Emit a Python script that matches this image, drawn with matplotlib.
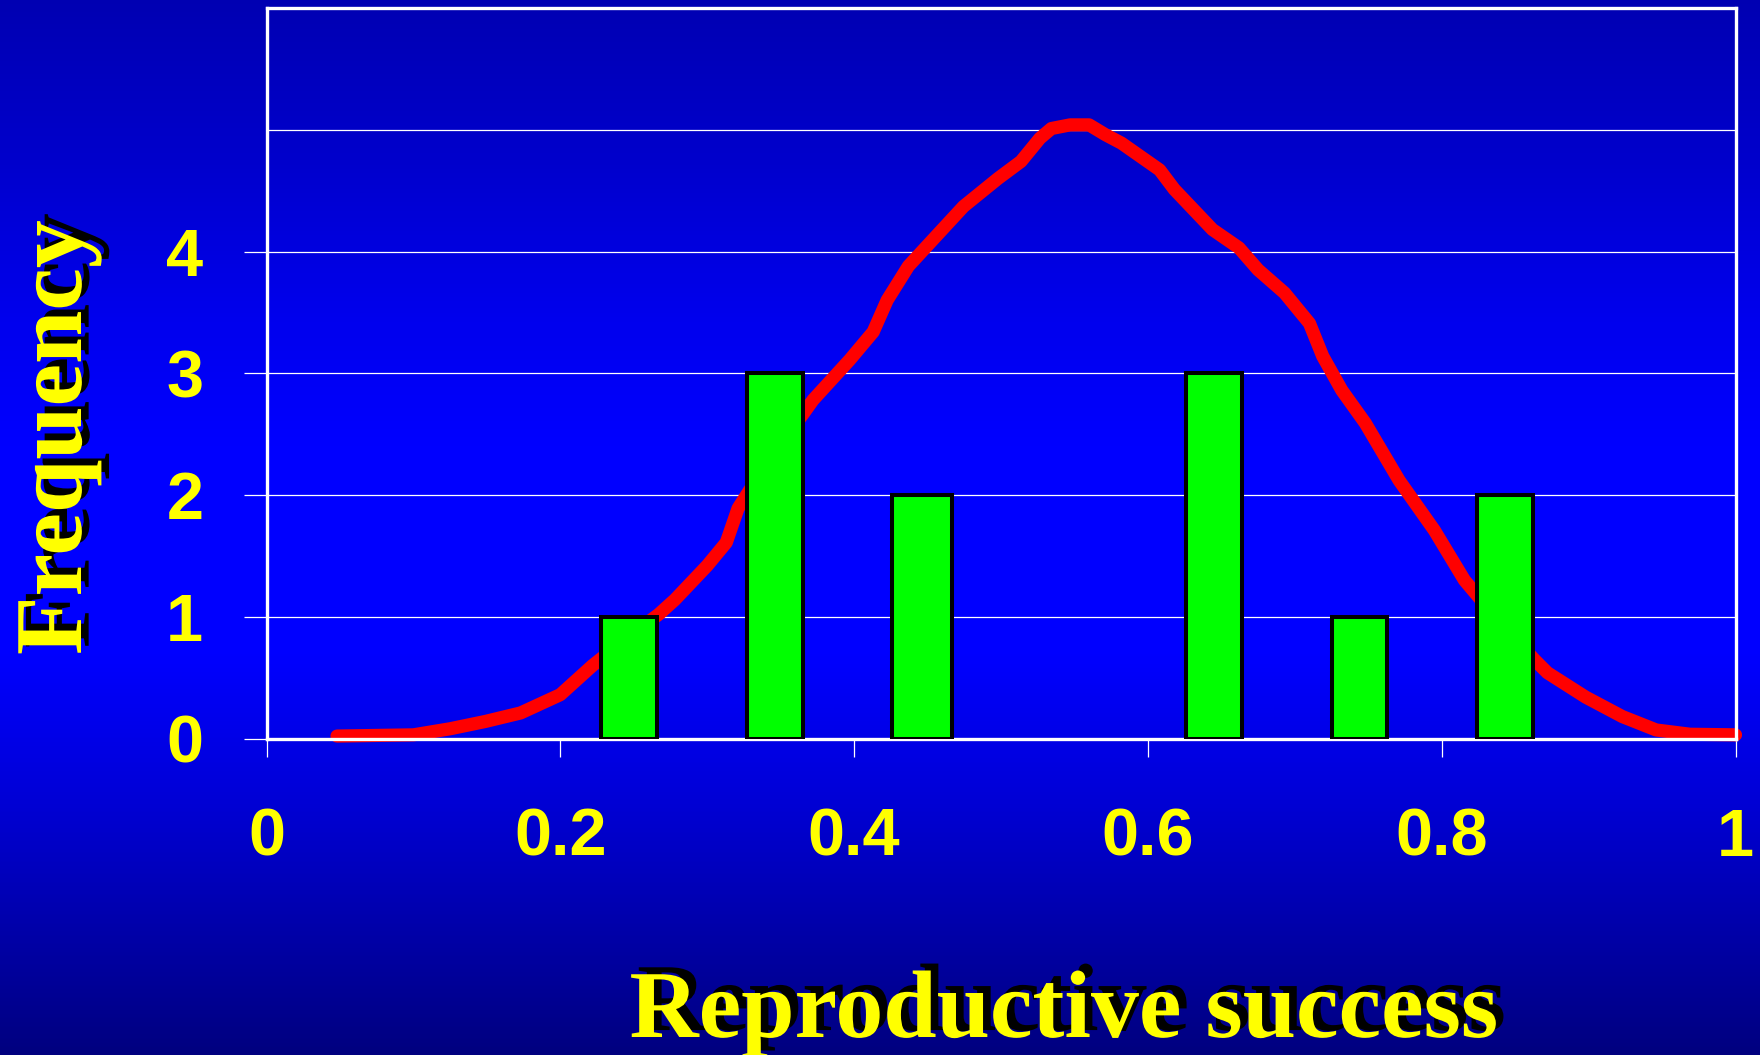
import numpy as np
import matplotlib
matplotlib.use("Agg")
import matplotlib.pyplot as plt
from matplotlib.colors import LinearSegmentedColormap
import matplotlib.patheffects as pe

# ---- data ----
bar_x = [0.247, 0.346, 0.446, 0.645, 0.744, 0.843]
bar_freq = [1, 3, 2, 3, 1, 2]
bar_w = [0.038, 0.038, 0.041, 0.038, 0.038, 0.038]

curve_x = [0.048, 0.100, 0.125, 0.149, 0.173, 0.200, 0.222, 0.245, 0.267, 0.278,
           0.300, 0.313, 0.321, 0.340, 0.3655, 0.372, 0.397, 0.413, 0.4225, 0.437,
           0.450, 0.4745, 0.498, 0.5136, 0.5265, 0.5343, 0.547, 0.560, 0.571, 0.582,
           0.608, 0.618, 0.644, 0.662, 0.675, 0.693, 0.710, 0.719, 0.732, 0.748,
           0.771, 0.795, 0.8155, 0.840, 0.8633, 0.872, 0.898, 0.923, 0.946, 0.969, 1.0]
curve_y = [0.02, 0.03, 0.08, 0.14, 0.21, 0.36, 0.60, 0.82, 1.02, 1.14,
           1.42, 1.61, 1.89, 2.25, 2.67, 2.78, 3.11, 3.34, 3.60, 3.88,
           4.05, 4.37, 4.60, 4.74, 4.93, 5.01, 5.04, 5.04, 4.96, 4.89,
           4.67, 4.51, 4.18, 4.03, 3.85, 3.66, 3.41, 3.14, 2.86, 2.59,
           2.12, 1.71, 1.30, 0.95, 0.645, 0.54, 0.34, 0.18, 0.07, 0.035, 0.03]

xticks = [0, 0.2, 0.4, 0.6, 0.8, 1]
xtick_labels = ["0", "0.2", "0.4", "0.6", "0.8", "1"]
yticks = [0, 1, 2, 3, 4]
ytick_labels = ["0", "1", "2", "3", "4"]
extra_grid = [5]

xlabel = "Reproductive success"
ylabel = "Frequency"

# ---- figure ----
W, H = 1760, 1055
fig = plt.figure(figsize=(W / 100, H / 100), dpi=100)

# gradient background
bg = fig.add_axes([0, 0, 1, 1], zorder=-10)
cmap = LinearSegmentedColormap.from_list(
    "bgblue",
    [(0.0, (0, 0, 0.70)), (0.15, (0, 0, 0.80)), (0.30, (0, 0, 0.93)),
     (0.42, (0, 0, 1.0)), (0.62, (0, 0, 1.0)), (0.75, (0, 0, 0.85)),
     (1.0, (0, 0, 0.50))])
grad = np.linspace(0, 1, 512).reshape(-1, 1)
bg.imshow(grad, aspect="auto", cmap=cmap, extent=[0, 1, 0, 1], origin="upper")
bg.set_axis_off()

x0, x1 = 266.5, 1735.5
y0, y1 = 738.5, 8
ax = fig.add_axes([x0 / W, 1 - y0 / H, (x1 - x0) / W, (y0 - y1) / H])
ax.patch.set_alpha(0)
ax.set_xlim(0, 1)
ax.set_ylim(0, 6)

for s in ax.spines.values():
    s.set_color("white")
    s.set_linewidth(2.4)

ax.set_yticks(yticks)
ax.set_yticklabels(ytick_labels)
ax.set_xticks(xticks)
ax.set_xticklabels(xtick_labels)

tickfont = dict(family="Liberation Sans", weight="bold", size=48)
for lab in ax.get_xticklabels() + ax.get_yticklabels():
    lab.set_fontproperties(matplotlib.font_manager.FontProperties(**tickfont))
    lab.set_color("#FFFF00")

ax.tick_params(axis="y", direction="out", length=16.5, width=0.9, color="white", pad=29)
ax.tick_params(axis="x", direction="out", length=13, width=0.9, color="white", pad=37)

ax.grid(axis="y", color="white", linewidth=0.9, zorder=0)
ax.set_axisbelow(True)
for g in extra_grid:
    ax.axhline(g, color="white", linewidth=0.9, zorder=0.5)

ax.plot(curve_x, curve_y, color="#FF0000", linewidth=9.5, zorder=2,
        solid_joinstyle="round", solid_capstyle="round", clip_on=False)
ax.bar(bar_x, bar_freq, width=bar_w, color="#00FF00", edgecolor="black",
       linewidth=2.9, zorder=3)

shadow = [pe.SimplePatchShadow(offset=(5.5, 5), shadow_rgbFace="black", alpha=1.0),
          pe.Normal()]
labfont = dict(family="Liberation Serif", weight="bold", size=69, color="#FFFF00")
fig.text(629.5 / W, 1 - 1037 / H, xlabel, ha="left", va="baseline",
         path_effects=shadow, **labfont)
fig.text(81 / W, 1 - 655 / H, ylabel, rotation=90, rotation_mode="anchor",
         ha="left", va="baseline", path_effects=shadow, **labfont)

fig.savefig("out.png", dpi=100)
